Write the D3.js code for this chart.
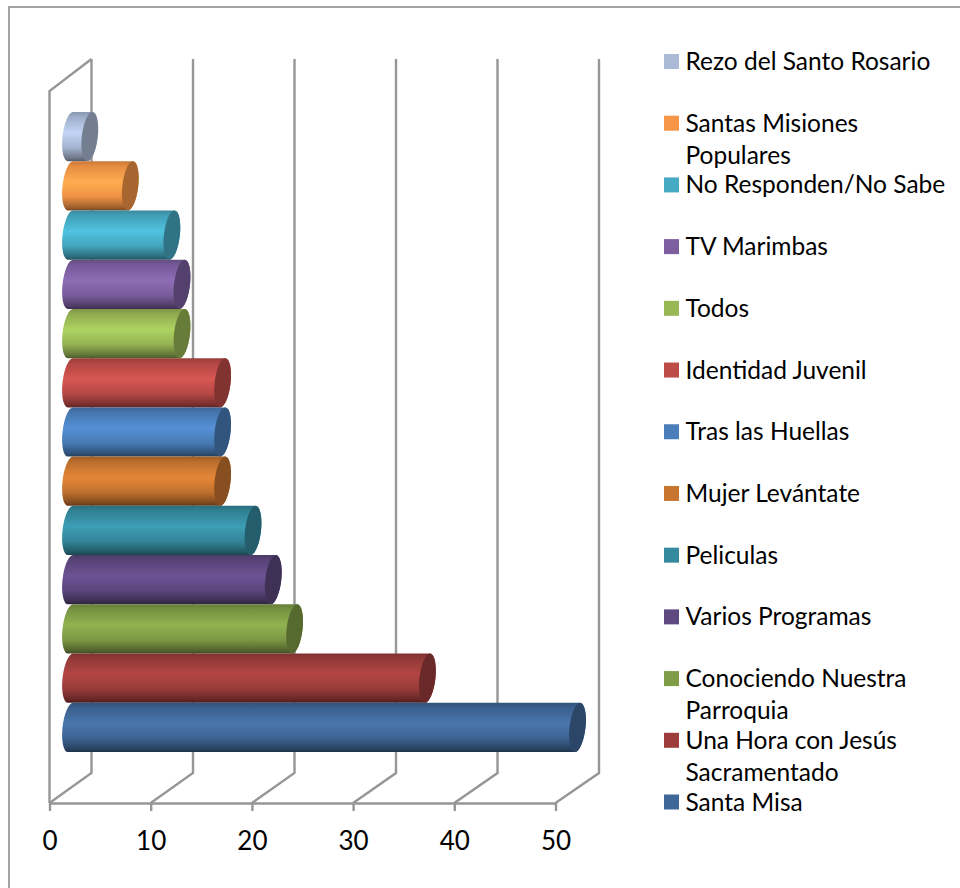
<!DOCTYPE html>
<html>
<head>
<meta charset="utf-8">
<script src="https://cdn.jsdelivr.net/npm/d3@7"></script>
<style>
html, body { margin: 0; padding: 0; background: #fff; }
svg { display: block; }
text { font-family: Lato, "Open Sans", sans-serif; fill: #000; }
</style>
</head>
<body>
<script>
// Categories, first one is the bottom bar
var categories = ["Santa Misa", "Una Hora con Jesús\nSacramentado", "Conociendo Nuestra\nParroquia", "Varios Programas",
    "Peliculas", "Mujer Levántate", "Tras las Huellas", "Identidad Juvenil", "Todos", "TV Marimbas",
    "No Responden/No Sabe", "Santas Misiones\nPopulares", "Rezo del Santo Rosario"];
var values = [50, 35.2, 22.1, 20, 18, 15, 15, 15, 11, 11, 10, 5.9, 1.9];
var xTicks = [0, 10, 20, 30, 40, 50];
var colors = ["#3f6797", "#9c3d3b", "#7f9c46", "#5e4880", "#358a9e", "#c87530",
    "#4a7ebb", "#bd4b48", "#98b855", "#7d5fa0", "#46aac4", "#f79646", "#aabad7"];

var width = 960, height = 888;
var axisY = 803, topY = 91;          // front plane of the 3D box
var backBottom = 773, backTop = 59;  // back wall
var capRx = 8;
var gridColor = "#969696";

var xScale = d3.scaleLinear().domain([0, 50]).range([49.5, 555.5]);
var xBack = d3.scaleLinear().domain([0, 50]).range([91.5, 599]);
var xBar = d3.scaleLinear().domain([0, 50]).range([70.5, 577.5]);   // bars sit halfway in the box
var yScale = d3.scaleBand().domain(categories).range([752, 112]);
var zScale = d3.scaleOrdinal().domain(categories).range(colors);
var legendY = d3.scalePoint().domain(categories).range([802, 61.5]);

var svg = d3.select("body").append("svg")
    .attr("width", width)
    .attr("height", height);

// Outer frame, only left and top reach into the picture
svg.append("path")
    .attr("d", "M9,888V7H960")
    .attr("fill", "none")
    .attr("stroke", "#868686")
    .attr("stroke-width", 1.5);

// Walls and gridlines
var grid = svg.append("g")
    .attr("fill", "none")
    .attr("stroke", gridColor)
    .attr("stroke-width", 2.4);

grid.selectAll("path")
    .data(xTicks)
    .enter().append("path")
        .attr("d", function (d) {
            return "M" + xScale(d) + "," + axisY + "L" + xBack(d) + "," + backBottom + "V" + backTop;
        });

grid.append("path")
    .attr("d", "M" + xScale(0) + "," + axisY + "V" + topY + "L" + xBack(0) + "," + backTop);

// X axis
var xAxis = svg.append("g")
    .attr("transform", "translate(0," + axisY + ")")
    .call(d3.axisBottom(xScale).tickValues(xTicks).tickSize(8).tickPadding(21).tickSizeOuter(0));
xAxis.selectAll("path, line").attr("stroke", gridColor).attr("stroke-width", 2.4);
xAxis.selectAll("text").attr("font-size", 26).style("font-family", "Lato, sans-serif");

// One vertical gradient per bar
var defs = svg.append("defs");
var gradient = defs.selectAll("linearGradient")
    .data(categories)
    .enter().append("linearGradient")
        .attr("id", function (d, i) { return "bar" + i; })
        .attr("x1", 0).attr("y1", 0).attr("x2", 0).attr("y2", 1);

gradient.selectAll("stop")
    .data(function (d) {
        var c = d3.color(zScale(d));
        return [
            { o: 0, c: c.darker(0.6) },
            { o: 0.1, c: c.darker(0.2) },
            { o: 0.42, c: c.brighter(0.38) },
            { o: 0.72, c: c.darker(0.1) },
            { o: 0.93, c: c.darker(1.2) },
            { o: 1, c: c.darker(2) }
        ];
    })
    .enter().append("stop")
        .attr("offset", function (d) { return d.o; })
        .attr("stop-color", function (d) { return d.c.formatHex(); });

// Cylinders, drawn from the top down so lower bars overlap upper ones
var ry = yScale.bandwidth() / 2;
var bars = svg.append("g")
    .selectAll("g")
    .data(d3.reverse(categories.map(function (d, i) { return { name: d, value: values[i], index: i }; })))
    .enter().append("g")
        .attr("transform", function (d) {
            return "translate(0," + (yScale(d.name) + ry) + ") skewX(-6)";
        });

bars.append("path")
    .attr("fill", function (d) { return "url(#bar" + d.index + ")"; })
    .attr("d", function (d) {
        var x0 = xBar(0), x1 = xBar(d.value);
        var arc = "A" + capRx + "," + ry + " 0 0 1 ";
        return "M" + x0 + "," + (-ry) + "L" + x1 + "," + (-ry) + arc + x1 + "," + ry + "L" + x0 + "," + ry + arc + x0 + "," + (-ry) + "Z";
    });

bars.append("ellipse")
    .attr("cx", function (d) { return xBar(d.value); })
    .attr("cy", 0)
    .attr("rx", capRx)
    .attr("ry", ry)
    .attr("fill", function (d) { return d3.color(zScale(d.name)).darker(1.1).formatHex(); });

// Legend
var legend = svg.append("g")
    .selectAll("g")
    .data(categories)
    .enter().append("g")
        .attr("transform", function (d) { return "translate(664," + legendY(d) + ")"; });

legend.append("rect")
    .attr("y", -7.5)
    .attr("width", 15)
    .attr("height", 15)
    .attr("fill", zScale);

legend.append("text")
    .attr("font-size", 24.5)
    .selectAll("tspan")
    .data(function (d) { return d.split("\n"); })
    .enter().append("tspan")
        .attr("x", 21.5)
        .attr("y", function (d, i) { return 8.5 + i * 32; })
        .text(function (d) { return d; });
</script>
</body>
</html>
